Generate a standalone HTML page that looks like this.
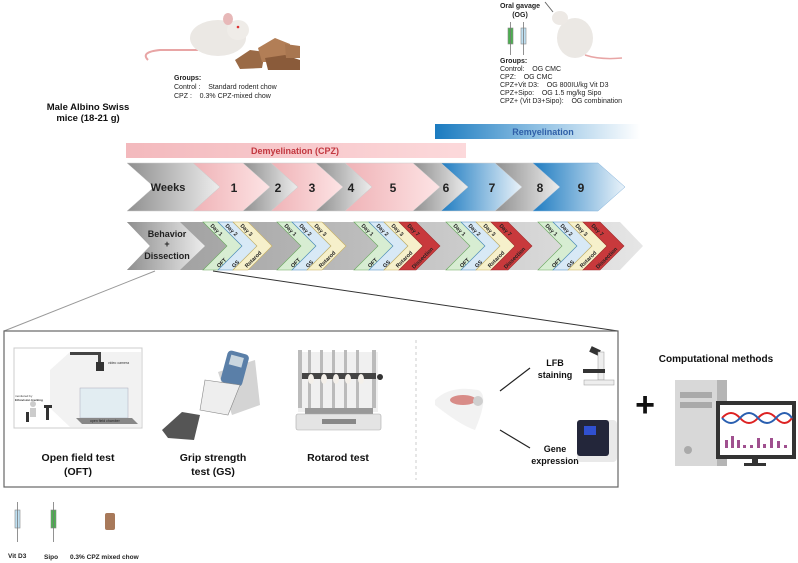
<!DOCTYPE html>
<html><head><meta charset="utf-8"><style>
html,body{margin:0;padding:0;background:#fff;}
svg{display:block;font-family:"Liberation Sans",sans-serif;}
text{white-space:pre;}
</style></head><body>
<svg width="798" height="563" viewBox="0 0 798 563" xmlns="http://www.w3.org/2000/svg" xml:space="preserve">
<defs>
<linearGradient id="gr" x1="0" x2="1"><stop offset="0" stop-color="#8f8f8f"/><stop offset="1" stop-color="#ededed"/></linearGradient>
<linearGradient id="pk" x1="0" x2="1"><stop offset="0" stop-color="#efb2b6"/><stop offset="1" stop-color="#fde4e5"/></linearGradient>
<linearGradient id="bl" x1="0" x2="1"><stop offset="0" stop-color="#1f7cc1"/><stop offset="1" stop-color="#eaf3fa"/></linearGradient>
<linearGradient id="demy" x1="0" x2="1"><stop offset="0" stop-color="#f3b9bd"/><stop offset="1" stop-color="#fcd9db"/></linearGradient>
<linearGradient id="remy" x1="0" x2="1"><stop offset="0" stop-color="#1b7bc0"/><stop offset="0.5" stop-color="#8fc0e3"/><stop offset="1" stop-color="#ffffff"/></linearGradient>
<linearGradient id="row" x1="0" x2="1"><stop offset="0" stop-color="#9a9a9a"/><stop offset="1" stop-color="#e6e6e6"/></linearGradient>
</defs>

<!-- top-left mouse -->
<g>
<path d="M148 60 Q140 52 160 50 L198 50" stroke="#e8a5a5" stroke-width="2" fill="none"/>
<ellipse cx="218" cy="38" rx="28" ry="18" fill="#ebe8e4"/>
<ellipse cx="238" cy="30" rx="11" ry="10" fill="#efece8"/>
<ellipse cx="228" cy="19" rx="5" ry="6" fill="#e7b8b8"/>
<circle cx="238" cy="27" r="1.3" fill="#d33"/>
</g>
<!-- chow -->
<g fill="#9a6a46">
<polygon points="235,60 250,50 265,52 262,68 240,69"/>
<polygon points="258,48 275,38 290,44 288,62 262,62" fill="#b27e56"/>
<polygon points="265,58 285,55 300,60 300,70 268,70" fill="#8a5b3a"/>
<polygon points="285,44 300,46 300,58 286,58" fill="#a87650"/>
</g>
<text x="174" y="80" font-size="7" font-weight="bold" fill="#222">Groups:</text>
<text x="174" y="89" font-size="7" fill="#222">Control :    Standard rodent chow</text>
<text x="174" y="98" font-size="7" fill="#222">CPZ :    0.3% CPZ-mixed chow</text>
<text x="88" y="110" font-size="9.5" font-weight="bold" text-anchor="middle" fill="#111">Male Albino Swiss</text>
<text x="88" y="121" font-size="9.5" font-weight="bold" text-anchor="middle" fill="#111">mice (18-21 g)</text>

<!-- OG -->
<text x="520" y="8" font-size="7" font-weight="bold" text-anchor="middle" fill="#222">Oral gavage</text>
<text x="520" y="17" font-size="7" font-weight="bold" text-anchor="middle" fill="#222">(OG)</text>
<rect x="508" y="28" width="5" height="16" fill="#4caf50" stroke="#888" stroke-width="0.6"/>
<line x1="510.5" y1="22" x2="510.5" y2="55" stroke="#777" stroke-width="0.8"/>
<rect x="521" y="28" width="5" height="16" fill="#bfe0f2" stroke="#888" stroke-width="0.6"/>
<line x1="523.5" y1="22" x2="523.5" y2="55" stroke="#777" stroke-width="0.8"/>
<g>
<ellipse cx="575" cy="38" rx="18" ry="20" fill="#ebe8e4"/>
<ellipse cx="560" cy="18" rx="8" ry="7" fill="#ede9e5"/>
<path d="M585 55 Q600 60 622 58" stroke="#e8a5a5" stroke-width="1.5" fill="none"/>
<line x1="545" y1="2" x2="553" y2="12" stroke="#666" stroke-width="1"/>
</g>
<g font-size="7" fill="#222">
<text x="500" y="63" font-weight="bold">Groups:</text>
<text x="500" y="71">Control:    OG CMC</text>
<text x="500" y="79">CPZ:    OG CMC</text>
<text x="500" y="87">CPZ+Vit D3:    OG 800IU/kg Vit D3</text>
<text x="500" y="95">CPZ+Sipo:    OG 1.5 mg/kg Sipo</text>
<text x="500" y="103">CPZ+ (Vit D3+Sipo):    OG combination</text>
</g>

<!-- phase bars -->
<rect x="435" y="124" width="205" height="15" fill="url(#remy)"/>
<text x="543" y="135" font-size="9" font-weight="bold" text-anchor="middle" fill="#2f5fa8">Remyelination</text>
<rect x="126" y="143" width="340" height="15" fill="url(#demy)"/>
<text x="295" y="154" font-size="9" font-weight="bold" text-anchor="middle" fill="#c2373f">Demyelination (CPZ)</text>

<!-- weeks row -->
<g stroke="#ccc" stroke-width="0.5">
<polygon points="127,163 193,163 220,187 193,211 127,211 154,187" fill="url(#gr)"/>
<polygon points="193,163 243,163 270,187 243,211 193,211 220,187" fill="url(#pk)"/>
<polygon points="243,163 271,163 298,187 271,211 243,211 270,187" fill="url(#gr)"/>
<polygon points="271,163 316,163 343,187 316,211 271,211 298,187" fill="url(#pk)"/>
<polygon points="316,163 345,163 372,187 345,211 316,211 343,187" fill="url(#gr)"/>
<polygon points="345,163 413,163 440,187 413,211 345,211 372,187" fill="url(#pk)"/>
<polygon points="413,163 441,163 468,187 441,211 413,211 440,187" fill="url(#gr)"/>
<polygon points="441,163 495,163 522,187 495,211 441,211 468,187" fill="url(#bl)"/>
<polygon points="495,163 533,163 560,187 533,211 495,211 522,187" fill="url(#gr)"/>
<polygon points="533,163 598,163 625,187 598,211 533,211 560,187" fill="url(#bl)" stroke="#7fb0da"/>
</g>
<g font-size="12" font-weight="bold" fill="#222" text-anchor="middle">
<text x="168" y="191" font-size="11">Weeks</text>
<text x="234" y="192">1</text><text x="278" y="192">2</text><text x="312" y="192">3</text>
<text x="351" y="192">4</text><text x="393" y="192">5</text><text x="446" y="192">6</text>
<text x="492" y="192">7</text><text x="540" y="192">8</text><text x="581" y="192">9</text>
</g>

<!-- behavior row -->
<polygon points="127,222 620,222 643,246 620,270 127,270 150,246" fill="url(#row)"/>
<polygon points="127,222 180,222 205,246 180,270 127,270 150,246" fill="url(#gr)"/>
<text x="167" y="237" font-size="9" font-weight="bold" text-anchor="middle" fill="#222">Behavior</text>
<text x="167" y="247" font-size="9" font-weight="bold" text-anchor="middle" fill="#222">+</text>
<text x="167" y="259" font-size="9" font-weight="bold" text-anchor="middle" fill="#222">Dissection</text>

<g id="g1" transform="translate(203,0)">
<polygon points="0,222 15,222 39,246 15,270 0,270 24,246" fill="#d7edd2" stroke="#6aa85f" stroke-width="0.6"/>
<polygon points="15,222 30,222 54,246 30,270 15,270 39,246" fill="#d8e9f6" stroke="#4a8ac0" stroke-width="0.6"/>
<polygon points="30,222 45,222 69,246 45,270 30,270 54,246" fill="#f6f0cb" stroke="#c8b060" stroke-width="0.6"/>
<g font-size="5.5" font-weight="bold" fill="#222">
<text transform="translate(7,226) rotate(45)">Day 1</text>
<text transform="translate(22,226) rotate(45)">Day 2</text>
<text transform="translate(37,226) rotate(45)">Day 3</text>
<text transform="translate(16,268) rotate(-45)">OFT</text>
<text transform="translate(31,268) rotate(-45)">GS</text>
<text transform="translate(44,268) rotate(-45)">Rotarod</text>
</g>
</g>
<use href="#g1" transform="translate(74,0)"/>
<g id="g3" transform="translate(354,0)">
<polygon points="0,222 15,222 39,246 15,270 0,270 24,246" fill="#d7edd2" stroke="#6aa85f" stroke-width="0.6"/>
<polygon points="15,222 30,222 54,246 30,270 15,270 39,246" fill="#d8e9f6" stroke="#4a8ac0" stroke-width="0.6"/>
<polygon points="30,222 45,222 69,246 45,270 30,270 54,246" fill="#f6f0cb" stroke="#c8b060" stroke-width="0.6"/>
<polygon points="45,222 62,222 86,246 62,270 45,270 69,246" fill="#c8393c" stroke="#a02a2c" stroke-width="0.6"/>
<g font-size="5.5" font-weight="bold" fill="#222">
<text transform="translate(7,226) rotate(45)">Day 1</text>
<text transform="translate(22,226) rotate(45)">Day 2</text>
<text transform="translate(37,226) rotate(45)">Day 3</text>
<text transform="translate(53,226) rotate(45)">Day 7</text>
<text transform="translate(16,268) rotate(-45)">OFT</text>
<text transform="translate(31,268) rotate(-45)">GS</text>
<text transform="translate(44,268) rotate(-45)">Rotarod</text>
<text transform="translate(60,269) rotate(-45)">Dissection</text>
</g>
</g>
<use href="#g3" transform="translate(92,0)"/>
<use href="#g3" transform="translate(184,0)"/>

<!-- zoom lines -->
<line x1="155" y1="271" x2="4" y2="331" stroke="#999" stroke-width="1"/>
<line x1="213" y1="271" x2="618" y2="331" stroke="#333" stroke-width="1"/>

<!-- box -->
<rect x="4" y="331" width="614" height="156" fill="#fff" stroke="#666" stroke-width="1.2"/>
<line x1="416" y1="340" x2="416" y2="480" stroke="#ccc" stroke-dasharray="3,3"/>

<!-- OFT -->
<rect x="14" y="348" width="128" height="80" fill="#fff" stroke="#ccc"/>
<polygon points="70,352 141,352 141,427 70,427 50,408 50,370" fill="#f2f2f2"/>
<rect x="70" y="352" width="30" height="3" fill="#444"/>
<rect x="98" y="352" width="3" height="12" fill="#444"/>
<rect x="96" y="362" width="8" height="9" fill="#333"/>
<text x="108" y="364" font-size="3.5" fill="#333">video camera</text>
<rect x="80" y="388" width="48" height="30" fill="#e2edf2" stroke="#aab" stroke-width="0.5"/>
<polygon points="76,418 132,418 138,424 82,424" fill="#888"/>
<text x="90" y="422" font-size="3.5" fill="#222">open field chamber</text>
<text x="15" y="397" font-size="3" fill="#333">monitored by</text>
<text x="15" y="401" font-size="3" font-weight="bold" fill="#333">Ethovision tracking</text>
<rect x="44" y="405" width="8" height="3" fill="#333"/>
<rect x="46" y="408" width="3" height="12" fill="#333"/>
<circle cx="33" cy="404" r="3" fill="#ccc"/>
<rect x="30" y="408" width="6" height="9" fill="#ccc"/>
<rect x="26" y="412" width="3" height="10" fill="#333"/>
<text x="78" y="461" font-size="10.5" font-weight="bold" text-anchor="middle" fill="#111">Open field test</text>
<text x="78" y="475" font-size="10.5" font-weight="bold" text-anchor="middle" fill="#111">(OFT)</text>

<!-- Grip -->
<polygon points="218,372 255,360 260,405 232,415" fill="#d4d4d4"/>
<rect x="224" y="352" width="22" height="33" rx="4" fill="#5a7fa8" transform="rotate(15 235 368)"/>
<rect x="228" y="356" width="13" height="10" fill="#c9d6df" transform="rotate(15 235 368)"/>
<polygon points="205,380 240,385 228,415 200,410" fill="#eee" stroke="#888" stroke-width="0.6"/>
<polygon points="162,430 182,412 200,415 194,440 168,438" fill="#555"/>
<text x="213" y="461" font-size="10.5" font-weight="bold" text-anchor="middle" fill="#111">Grip strength</text>
<text x="213" y="475" font-size="10.5" font-weight="bold" text-anchor="middle" fill="#111">test (GS)</text>

<!-- Rotarod -->
<rect x="298" y="352" width="80" height="60" fill="#f0f0f0"/>
<g fill="#bbb"><rect x="298" y="350" width="4" height="58"/><rect x="308" y="350" width="3" height="58"/><rect x="320" y="350" width="3" height="58"/><rect x="332" y="350" width="3" height="58"/><rect x="344" y="350" width="3" height="58"/><rect x="356" y="350" width="3" height="58"/><rect x="372" y="350" width="4" height="58"/></g>
<rect x="302" y="373" width="74" height="6" fill="#444"/>
<g fill="#f4f0ea"><ellipse cx="311" cy="379" rx="3" ry="5"/><ellipse cx="324" cy="379" rx="3" ry="5"/><ellipse cx="336" cy="379" rx="3" ry="5"/><ellipse cx="348" cy="379" rx="3" ry="5"/><ellipse cx="361" cy="379" rx="3" ry="5"/></g>
<rect x="305" y="408" width="68" height="6" fill="#999"/>
<rect x="296" y="414" width="85" height="16" rx="2" fill="#e4e4e4" stroke="#aaa" stroke-width="0.6"/>
<rect x="322" y="419" width="34" height="5" fill="#888"/>
<circle cx="380" cy="377" r="3" fill="#333"/>
<text x="338" y="461" font-size="10.5" font-weight="bold" text-anchor="middle" fill="#111">Rotarod test</text>

<!-- brain mouse -->
<path d="M435 400 Q450 385 478 390 Q490 395 475 430 Q460 425 435 405Z" fill="#f2f2f2"/>
<ellipse cx="463" cy="400" rx="13" ry="5" fill="#d88c88"/>
<ellipse cx="478" cy="401" rx="5" ry="5" fill="#cfcfcf"/>
<line x1="500" y1="391" x2="530" y2="368" stroke="#222" stroke-width="1.2"/>
<line x1="500" y1="430" x2="530" y2="448" stroke="#222" stroke-width="1.2"/>
<text x="555" y="366" font-size="9" font-weight="bold" text-anchor="middle" fill="#111">LFB</text>
<text x="555" y="378" font-size="9" font-weight="bold" text-anchor="middle" fill="#111">staining</text>
<rect x="590" y="348" width="10" height="6" fill="#333" transform="rotate(25 595 351)"/>
<rect x="598" y="352" width="6" height="28" fill="#eee" stroke="#999" stroke-width="0.5"/>
<rect x="583" y="369" width="22" height="4" fill="#333"/>
<rect x="584" y="380" width="30" height="5" fill="#eee" stroke="#999" stroke-width="0.5"/>
<text x="555" y="452" font-size="9" font-weight="bold" text-anchor="middle" fill="#111">Gene</text>
<text x="555" y="464" font-size="9" font-weight="bold" text-anchor="middle" fill="#111">expression</text>
<rect x="577" y="420" width="40" height="42" rx="4" fill="#e9e9e9"/>
<rect x="577" y="420" width="32" height="36" rx="3" fill="#23263a"/>
<rect x="584" y="426" width="12" height="9" fill="#3050d0"/>

<!-- plus & computational -->
<text x="645" y="416" font-size="34" font-weight="bold" text-anchor="middle" fill="#111">+</text>
<text x="716" y="362" font-size="10" font-weight="bold" text-anchor="middle" fill="#111">Computational methods</text>
<rect x="675" y="380" width="52" height="86" fill="#b5b5b5"/>
<rect x="675" y="380" width="42" height="86" fill="#d8d8d8"/>
<rect x="680" y="392" width="32" height="6" fill="#aaa"/>
<rect x="680" y="402" width="32" height="6" fill="#aaa"/>
<circle cx="688" cy="450" r="4" fill="#aaa"/>
<rect x="716" y="401" width="80" height="58" fill="#333"/>
<rect x="720" y="405" width="72" height="50" fill="#fff"/>
<path d="M722 418 Q731 408 740 418 T758 418 T776 418 T792 418" stroke="#d22" stroke-width="2" fill="none"/>
<path d="M722 418 Q731 428 740 418 T758 418 T776 418 T792 418" stroke="#2a5fb0" stroke-width="2" fill="none"/>
<g fill="#a0508f"><rect x="725" y="440" width="3" height="8"/><rect x="731" y="436" width="3" height="12"/><rect x="737" y="440" width="3" height="8"/><rect x="743" y="445" width="3" height="3"/><rect x="750" y="445" width="3" height="3"/><rect x="757" y="438" width="3" height="10"/><rect x="763" y="444" width="3" height="4"/><rect x="770" y="438" width="3" height="10"/><rect x="777" y="441" width="3" height="7"/><rect x="784" y="445" width="3" height="3"/></g>
<rect x="752" y="459" width="6" height="5" fill="#333"/>
<rect x="744" y="463" width="22" height="3" fill="#333"/>

<!-- legend -->
<rect x="15" y="510" width="5" height="18" fill="#bfe0f2" stroke="#888" stroke-width="0.6"/>
<line x1="17.5" y1="502" x2="17.5" y2="542" stroke="#777" stroke-width="0.8"/>
<rect x="51" y="510" width="5" height="18" fill="#4caf50" stroke="#888" stroke-width="0.6"/>
<line x1="53.5" y1="502" x2="53.5" y2="542" stroke="#777" stroke-width="0.8"/>
<rect x="105" y="513" width="10" height="17" rx="2" fill="#a8795a"/>
<g font-size="6.5" font-weight="bold" fill="#222">
<text x="8" y="558">Vit D3</text>
<text x="44" y="559">Sipo</text>
<text x="70" y="559">0.3% CPZ mixed chow</text>
</g>
</svg>
</body></html>
